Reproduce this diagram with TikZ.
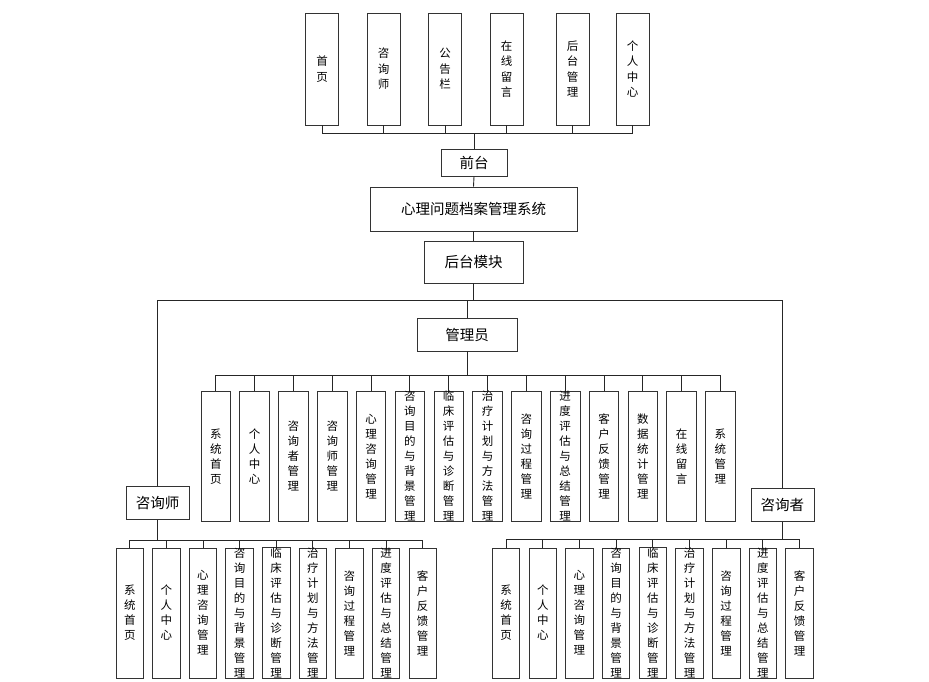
\documentclass[tikz,border=0pt]{standalone}
\usepackage{fontspec}
\setmainfont{Noto Sans CJK SC}
\begin{document}
\begin{tikzpicture}[x=1pt,y=-1pt,
  box/.style={draw=black!80, line width=0.8pt, fill=white, inner sep=0pt, align=center},
  topbox/.style={box, minimum width=33pt, minimum height=112pt, font=\fontsize{11.5}{15.5}\selectfont},
  abox/.style={box, minimum width=29.6pt, minimum height=130.7pt, font=\fontsize{11.5}{15}\selectfont},
  sbox/.style={box, minimum width=27.5pt, minimum height=130pt, font=\fontsize{11.5}{15}\selectfont},
  hbox/.style={box, font=\fontsize{14.5}{16}\selectfont},
  conn/.style={draw=black!85, line width=0.9pt}]
\useasboundingbox (0,0) rectangle (929,681);
% top row
\node[topbox] (t1) at (322.2,69) {首\\页};
\node[topbox] (t2) at (383.5,69) {咨\\询\\师};
\node[topbox] (t3) at (445.2,69) {公\\告\\栏};
\node[topbox] (t4) at (506.5,69) {在\\线\\留\\言};
\node[topbox] (t5) at (572.5,69) {后\\台\\管\\理};
\node[topbox] (t6) at (632.5,69) {个\\人\\中\\心};
\coordinate (tbus) at (474,133);
\foreach \i in {1,...,6}{\draw[conn] (t\i.south) -- (t\i.south |- tbus);}
\draw[conn] (t1.south |- tbus) -- (t6.south |- tbus);
% center column
\node[hbox, minimum width=66pt, minimum height=27pt] (qt) at (474,162.5) {前台};
\node[hbox, minimum width=207pt, minimum height=44pt] (sys) at (473.5,209) {心理问题档案管理系统};
\node[hbox, minimum width=99pt, minimum height=42pt] (htmk) at (473.5,262) {后台模块};
\node[hbox, minimum width=100pt, minimum height=33pt] (gly) at (467,334.5) {管理员};
\node[hbox, minimum width=63pt, minimum height=33pt] (zxs) at (157.7,503.3) {咨询师};
\node[hbox, minimum width=63pt, minimum height=33pt] (zxz) at (782.4,504.7) {咨询者};
\draw[conn] (tbus) -- (qt.north);
\draw[conn] (qt.south) -- (sys.north);
\draw[conn] (sys.south) -- (htmk.north);
\coordinate (mbus) at (473.5,300);
\draw[conn] (htmk.south) -- (mbus);
\draw[conn] (zxs.north) -- (zxs.north |- mbus) -- (zxz.north |- mbus) -- (zxz.north);
\draw[conn] (mbus -| gly.north) -- (gly.north);
% admin row
\coordinate (abus) at (467,375);
\foreach \lab [count=\i from 0] in {{系\\统\\首\\页},{个\\人\\中\\心},{咨\\询\\者\\管\\理},{咨\\询\\师\\管\\理},{心\\理\\咨\\询\\管\\理},{咨\\询\\目\\的\\与\\背\\景\\管\\理},{临\\床\\评\\估\\与\\诊\\断\\管\\理},{治\\疗\\计\\划\\与\\方\\法\\管\\理},{咨\\询\\过\\程\\管\\理},{进\\度\\评\\估\\与\\总\\结\\管\\理},{客\\户\\反\\馈\\管\\理},{数\\据\\统\\计\\管\\理},{在\\线\\留\\言},{系\\统\\管\\理}}{
  \node[abox] (a\i) at (215.8+38.82*\i,456.3) {\lab};
  \draw[conn] (a\i.north) -- (a\i.north |- abus);
}
\draw[conn] (a0.north |- abus) -- (a13.north |- abus);
\draw[conn] (gly.south) -- (abus);
% counsellor row
\coordinate (lbus) at (157.7,540);
\foreach \lab [count=\i from 0] in {{系\\统\\首\\页},{个\\人\\中\\心},{心\\理\\咨\\询\\管\\理},{咨\\询\\目\\的\\与\\背\\景\\管\\理},{临\\床\\评\\估\\与\\诊\\断\\管\\理},{治\\疗\\计\\划\\与\\方\\法\\管\\理},{咨\\询\\过\\程\\管\\理},{进\\度\\评\\估\\与\\总\\结\\管\\理},{客\\户\\反\\馈\\管\\理}}{
  \node[sbox] (l\i) at (129.75+36.62*\i,613) {\lab};
  \draw[conn] (l\i.north) -- (l\i.north |- lbus);
}
\draw[conn] (l0.north |- lbus) -- (l8.north |- lbus);
\draw[conn] (zxs.south) -- (lbus);
% client row
\coordinate (rbus) at (782.4,539.5);
\foreach \lab [count=\i from 0] in {{系\\统\\首\\页},{个\\人\\中\\心},{心\\理\\咨\\询\\管\\理},{咨\\询\\目\\的\\与\\背\\景\\管\\理},{临\\床\\评\\估\\与\\诊\\断\\管\\理},{治\\疗\\计\\划\\与\\方\\法\\管\\理},{咨\\询\\过\\程\\管\\理},{进\\度\\评\\估\\与\\总\\结\\管\\理},{客\\户\\反\\馈\\管\\理}}{
  \node[sbox] (r\i) at (506.1+36.68*\i,613) {\lab};
  \draw[conn] (r\i.north) -- (r\i.north |- rbus);
}
\draw[conn] (r0.north |- rbus) -- (r8.north |- rbus);
\draw[conn] (zxz.south) -- (rbus);
\end{tikzpicture}
\end{document}
